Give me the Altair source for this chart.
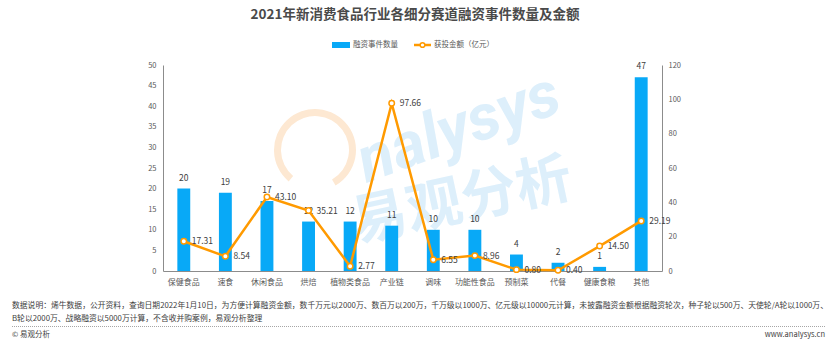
import altair as alt
import pandas as pd

categories = ["保健食品", "速食", "休闲食品", "烘焙", "植物类食品", "产业链",
              "调味", "功能性食品", "预制菜", "代餐", "健康食粮", "其他"]
counts = [20, 19, 17, 12, 12, 11, 10, 10, 4, 2, 1, 47]
amounts = [17.31, 8.54, 43.10, 35.21, 2.77, 97.66, 6.55, 8.96, 0.80, 0.40, 14.50, 29.19]

title_text = "2021年新消费食品行业各细分赛道融资事件数量及金额"
legend_bar = "融资事件数量"
legend_line = "获投金额（亿元）"
note1 = ("数据说明：烯牛数据，公开资料，查询日期2022年1月10日，为方便计算融资金额，数千万元以2000万、数百万以200万，"
         "千万级以1000万、亿元级以10000元计算，未披露融资金额根据融资轮次，种子轮以500万、天使轮/A轮以1000万、")
note2 = "B轮以2000万、战略融资以5000万计算，不含收并购案例，易观分析整理"
source_left = "© 易观分析"
source_right = "www.analysys.cn"

FONT = "Noto Sans CJK SC"
BLUE = "#08A9F7"
ORANGE = "#FF9A00"
GRAY = "#595959"

df = pd.DataFrame({"cat": categories, "count": counts, "amount": amounts})
df["amount_label"] = [f"{v:.2f}" for v in amounts]

W, H = 499, 206

xenc = alt.X("cat:N", sort=categories, title=None,
             scale=alt.Scale(paddingInner=0.69, paddingOuter=0.345),
             axis=alt.Axis(labelAngle=0, labelFontSize=8, labelColor=GRAY, labelFont=FONT,
                           ticks=False, domainColor="#8C8C8C", labelPadding=7))

y1 = alt.Y("count:Q", title=None,
           scale=alt.Scale(domain=[0, 50]),
           axis=alt.Axis(values=list(range(0, 51, 5)), grid=False, ticks=False,
                         labelFontSize=7.5, labelColor=GRAY, domainColor="#8C8C8C",
                         labelPadding=7, labelFont=FONT))
y2 = alt.Y("amount:Q", title=None,
           scale=alt.Scale(domain=[0, 120]),
           axis=alt.Axis(orient="right", values=list(range(0, 121, 20)), grid=False, ticks=False,
                         labelFontSize=7.5, labelColor=GRAY, domainColor="#8C8C8C",
                         labelPadding=6, labelFont=FONT))

base = alt.Chart(df)

bars = base.mark_bar(color=BLUE).encode(x=xenc, y=y1)
bar_labels = base.mark_text(dy=-11, fontSize=8.5, color="#404040", font=FONT).encode(
    x=xenc, y=y1, text="count:Q")
bar_layer = alt.layer(bars, bar_labels)

line = base.mark_line(color=ORANGE, strokeWidth=2.5).encode(x=xenc, y=y2)
pts = base.mark_point(filled=True, fill="white", stroke=ORANGE, strokeWidth=1.5, size=30,
                      opacity=1).encode(x=xenc, y=y2)
line_labels = base.mark_text(align="left", dx=8, fontSize=8.5, color="#404040", font=FONT).encode(
    x=xenc, y=y2, text="amount_label:N")
line_layer = alt.layer(line, pts, line_labels)


def txt(s, x, y, size, color="#404040", align="left", weight="normal", angle=0, opacity=1.0,
        style="normal", font=FONT):
    return alt.Chart(pd.DataFrame({"t": [s]})).mark_text(
        align=align, baseline="middle", fontSize=size, color=color, fontWeight=weight,
        angle=angle, opacity=opacity, fontStyle=style, font=font
    ).encode(x=alt.value(x), y=alt.value(y), text="t:N")


# watermark (behind the data)
wm_arc = alt.Chart(pd.DataFrame({"a": [0]})).mark_arc(color="#FDE8D2").encode(
    x=alt.value(152), y=alt.value(85),
    theta=alt.value(3.84), theta2=alt.value(8.9),
    radius=alt.value(41), radius2=alt.value(34))
wm_n = txt("nalysys", 296, 64, 64, color="#DDEFFB", align="center", weight="bold", angle=340,
           style="italic", font="Roboto")
wm_c = txt("易观分析", 299, 137, 56, color="#DDEFFB", align="center", weight="bold", angle=348)

title = txt(title_text, 252, -50, 13.5, color="#4A4A4A", align="center", weight="bold")
leg_rect = alt.Chart(pd.DataFrame({"a": [0]})).mark_rect(color=BLUE).encode(
    x=alt.value(169), x2=alt.value(187), y=alt.value(-23), y2=alt.value(-17))
leg_t1 = txt(legend_bar, 190, -20, 7.5, color=GRAY)
leg_line = alt.Chart(pd.DataFrame({"a": [0]})).mark_rule(color=ORANGE, strokeWidth=2.5).encode(
    x=alt.value(251), x2=alt.value(268), y=alt.value(-20))
leg_pt = alt.Chart(pd.DataFrame({"a": [0]})).mark_point(
    filled=True, fill="white", stroke=ORANGE, strokeWidth=1.5, size=22, opacity=1).encode(
    x=alt.value(259.5), y=alt.value(-20))
leg_t2 = txt(legend_line, 271, -20, 7.5, color=GRAY)

foot1 = txt(note1, -151, 241, 7.8, color="#404040")
foot2 = txt(note2, -151, 254, 7.8, color="#404040")
dots = alt.Chart(pd.DataFrame({"a": [0]})).mark_rule(color="#A6A6A6", strokeDash=[1, 1],
                                                     strokeWidth=1).encode(
    x=alt.value(-151), x2=alt.value(662), y=alt.value(261.5))
src_l = txt(source_left, -151, 270, 7.5, color="#404040")
src_r = txt(source_right, 662, 270, 7.5, color="#404040", align="right")

main = alt.layer(bar_layer, line_layer).resolve_scale(y="independent")

chart = alt.layer(
    wm_arc, wm_n, wm_c,
    main,
    title, leg_rect, leg_t1, leg_line, leg_pt, leg_t2,
    foot1, foot2, dots, src_l, src_r
).properties(
    width=W, height=H,
    autosize=alt.AutoSizeParams(type="none"),
    padding={"left": 163, "top": 65, "right": 831 - 163 - W, "bottom": 351 - 65 - H},
    background="white",
).configure_view(stroke=None)

chart.save("out.html", embed_options={"renderer": "svg", "actions": False})
